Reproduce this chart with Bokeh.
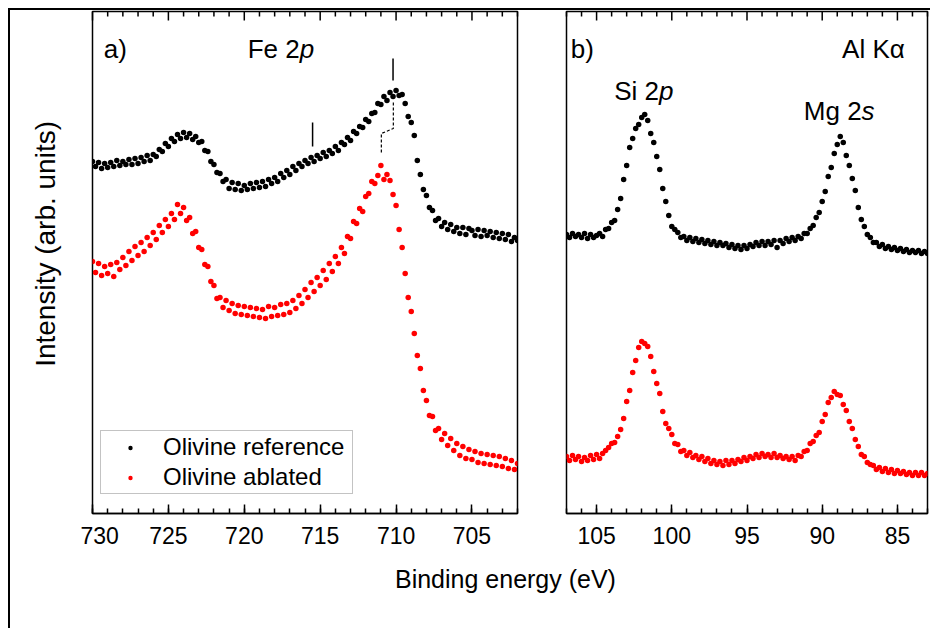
import math
from bokeh.plotting import figure
from bokeh.models import (Range1d, SingleIntervalTicker, Legend, LegendItem, Row, Column)
from bokeh.core.properties import value
from bokeh.embed import file_html
from bokeh.resources import INLINE

FONT = "Liberation Sans"

# ---------------- data: Fe 2p region (binding energy 730 -> 702 eV, step 0.2 eV)
fe_start, fe_step = 730.0, -0.2
fe_reference = [
    352, 347, 351, 345, 350, 346, 351, 347, 353, 348,
    352, 349, 354, 349, 355, 350, 356, 352, 358, 353,
    359, 357, 364, 362, 370, 367, 375, 372, 379, 375,
    381, 376, 380, 374, 377, 371, 372, 363, 362, 352,
    349, 341, 340, 332, 334, 325, 331, 324, 330, 323,
    328, 324, 330, 325, 331, 326, 332, 327, 334, 330,
    336, 332, 340, 336, 343, 339, 347, 343, 350, 347,
    353, 350, 356, 352, 358, 355, 361, 357, 363, 360,
    367, 363, 371, 369, 376, 373, 382, 380, 387, 386,
    394, 392, 400, 401, 410, 409, 417, 413, 421, 417,
    423, 418, 419, 410, 397, 391, 378, 353, 339, 324,
    318, 306, 303, 293, 295, 287, 291, 284, 289, 282,
    286, 280, 286, 279, 285, 283, 278, 284, 277, 283,
    278, 282, 276, 281, 275, 280, 274, 279, 272, 276,
    273,
]
fe_ablated = [
    252, 241, 250, 238, 247, 240, 249, 237, 251, 244,
    256, 248, 262, 253, 267, 258, 271, 262, 276, 268,
    281, 274, 288, 281, 294, 287, 300, 294, 309, 300,
    306, 293, 296, 280, 282, 266, 264, 249, 247, 232,
    228, 215, 216, 206, 213, 203, 210, 200, 208, 199,
    207, 198, 206, 197, 205, 196, 204, 195, 207, 197,
    206, 198, 209, 199, 210, 201, 213, 205, 218, 210,
    224, 216, 231, 222, 236, 228, 243, 234, 250, 242,
    257, 250, 266, 260, 277, 275, 292, 290, 305, 302,
    317, 320, 332, 330, 338, 348, 334, 339, 333, 319,
    308, 284, 266, 240, 216, 202, 180, 158, 145, 123,
    113, 98, 97, 83, 85, 74, 80, 68, 75, 63,
    70, 58, 67, 55, 64, 54, 62, 51, 60, 50,
    59, 49, 58, 48, 57, 47, 55, 45, 53, 44,
    50,
]
fe_energy = [round(fe_start + i * fe_step, 1) for i in range(len(fe_reference))]

# peak position marks and guide (eV, intensity)
fe_mark_E = [715.5, 710.2]
fe_mark_lo = [367, 433]
fe_mark_hi = [391, 455]
fe_guide_E = [710.18, 710.18, 710.97, 710.97]
fe_guide_I = [411, 385, 380, 359]

# ---------------- data: Si 2p / Mg 2s region (107 -> 83 eV, step 0.2 eV)
sb_start, sb_step = 107.0, -0.2
sb_reference = [
    279, 276, 280, 277, 279, 276, 280, 275, 279, 276,
    278, 280, 277, 284, 285, 291, 293, 304, 315, 334,
    348, 366, 375, 385, 389, 396, 399, 393, 380, 371,
    357, 344, 325, 312, 298, 287, 284, 281, 276, 277,
    273, 276, 272, 275, 271, 274, 270, 273, 269, 272,
    268, 271, 268, 270, 266, 269, 265, 268, 264, 268,
    265, 269, 267, 271, 268, 272, 268, 272, 269, 273,
    266, 273, 270, 275, 272, 276, 273, 277, 275, 280,
    280, 285, 288, 296, 301, 312, 322, 337, 346, 360,
    369, 377, 371, 358, 348, 335, 323, 306, 294, 287,
    279, 276, 271, 271, 267, 269, 265, 267, 264, 266,
    263, 265, 262, 264, 261, 263, 261, 263, 260, 262,
    260,
]
sb_ablated = [
    57, 53, 58, 54, 57, 52, 56, 53, 58, 54,
    59, 55, 60, 63, 66, 70, 71, 77, 84, 95,
    112, 123, 141, 153, 166, 172, 170, 167, 157, 142,
    130, 120, 102, 90, 85, 79, 70, 69, 62, 63,
    58, 61, 56, 58, 54, 57, 52, 55, 50, 53,
    49, 52, 48, 53, 49, 53, 50, 54, 52, 56,
    53, 57, 55, 59, 56, 60, 57, 59, 56, 60,
    56, 58, 55, 57, 54, 57, 53, 58, 57, 62,
    63, 70, 72, 78, 81, 92, 99, 111, 116, 122,
    119, 118, 109, 103, 92, 85, 74, 67, 59, 57,
    51, 49, 48, 44, 46, 42, 45, 41, 44, 40,
    43, 40, 42, 39, 41, 38, 41, 38, 41, 38,
    40,
]
sb_energy = [round(sb_start + i * sb_step, 1) for i in range(len(sb_reference))]

Y_MAX = 502          # one intensity unit per pixel of frame height
MS = 5.5
TICK_PX = 23
NOTE_PX = 26
MAJOR_LEN, MINOR_LEN = 9, 5
TOP_B, BOT_B = 1, 48
FIG_H = TOP_B + Y_MAX + BOT_B


def bare(p):
    p.outline_line_color = None
    p.xgrid.grid_line_color = None
    p.ygrid.grid_line_color = None


def style_panel(p):
    p.xgrid.grid_line_color = None
    p.ygrid.grid_line_color = None
    p.outline_line_color = "black"
    p.outline_line_width = 1.5
    ax = p.xaxis[0]
    ax.ticker = SingleIntervalTicker(interval=5, num_minor_ticks=5)
    ax.major_tick_in = MAJOR_LEN
    ax.major_tick_out = 0
    ax.minor_tick_in = MINOR_LEN
    ax.minor_tick_out = 0
    ax.major_tick_line_width = 1.5
    ax.minor_tick_line_width = 1.5
    ax.axis_line_width = 1.5
    ax.major_label_text_font = FONT
    ax.major_label_text_font_size = f"{TICK_PX}px"
    ax.major_label_text_color = "black"
    ax.major_label_standoff = 13


def top_ticks(p, lo, hi):
    # mirrored (unlabelled) ticks hanging from the top edge of the frame
    tick_vals = list(range(lo, hi + 1))
    major = [t for t in tick_vals if t % 5 == 0]
    minor = [t for t in tick_vals if t % 5 != 0]
    p.segment(x0=major, y0=[Y_MAX] * len(major), x1=major, y1=[Y_MAX - MAJOR_LEN] * len(major),
              line_color="black", line_width=1.5, level="overlay")
    p.segment(x0=minor, y0=[Y_MAX] * len(minor), x1=minor, y1=[Y_MAX - MINOR_LEN] * len(minor),
              line_color="black", line_width=1.5, level="overlay")


def note(p, x, y, s, align, italic=False):
    p.text(x=[x], y=[y], text=[s], text_font=value(FONT), text_font_size=f"{NOTE_PX}px",
           text_font_style="italic" if italic else "normal",
           text_baseline="alphabetic", text_align=align, text_color="black")


# ---------------- y-axis title column
py = figure(width=70, height=FIG_H, x_range=Range1d(0, 1), y_range=Range1d(0, 1),
            output_backend="svg", toolbar_location=None, tools="",
            x_axis_location=None, y_axis_location=None, min_border=0)
bare(py)
py.text(x=[0.5], y=[0.537], text=["Intensity (arb. units)"], angle=math.pi / 2,
        text_font=value(FONT), text_font_size="28px", text_align="center",
        text_baseline="middle", text_color="black")

# ---------------- panel a
pa = figure(width=461, height=FIG_H, x_range=Range1d(730, 702), y_range=Range1d(0, Y_MAX),
            output_backend="svg", toolbar_location=None, tools="",
            y_axis_location=None, min_border_left=12, min_border_right=24,
            min_border_top=TOP_B, min_border_bottom=BOT_B)
style_panel(pa)

r_ref = pa.scatter(fe_energy, fe_reference, size=MS, color="black", line_color=None)
r_abl = pa.scatter(fe_energy, fe_ablated, size=MS, color="red", line_color=None)
pa.segment(x0=fe_mark_E, y0=fe_mark_lo, x1=fe_mark_E, y1=fe_mark_hi,
           line_color="black", line_width=1.5)
pa.line(fe_guide_E, fe_guide_I, line_color="black", line_width=1.2, line_dash="3 2")

note(pa, 729.26, 465, "a)", "left")
note(pa, 716.35, 465, "Fe 2", "right")
note(pa, 716.35, 465, "p", "left", italic=True)

legend = Legend(items=[LegendItem(label="Olivine reference", renderers=[r_ref]),
                       LegendItem(label="Olivine ablated", renderers=[r_abl])],
                location=(8, 19), border_line_color="#888888", border_line_width=1,
                label_text_font=FONT, label_text_font_size="24px", label_text_color="black",
                glyph_width=54, glyph_height=11, label_height=22, label_width=187,
                label_standoff=6, padding=2, spacing=2, margin=0, background_fill_alpha=1)
pa.add_layout(legend)
top_ticks(pa, 702, 730)

# ---------------- panel b
pb = figure(width=389, height=FIG_H, x_range=Range1d(107, 83), y_range=Range1d(0, Y_MAX),
            output_backend="svg", toolbar_location=None, tools="",
            y_axis_location=None, min_border_left=25, min_border_right=3,
            min_border_top=TOP_B, min_border_bottom=BOT_B)
style_panel(pb)
pb.scatter(sb_energy, sb_reference, size=MS, color="black", line_color=None)
pb.scatter(sb_energy, sb_ablated, size=MS, color="red", line_color=None)

note(pb, 106.71, 465, "b)", "left")
note(pb, 84.51, 465, "Al K\u03b1", "right")
note(pb, 100.85, 423, "Si 2", "right")
note(pb, 100.85, 423, "p", "left", italic=True)
note(pb, 87.38, 403, "Mg 2", "right")
note(pb, 87.38, 403, "s", "left", italic=True)
top_ticks(pb, 83, 107)

# ---------------- shared x-axis title
pc = figure(width=920, height=67, x_range=Range1d(0, 1), y_range=Range1d(0, 1),
            output_backend="svg", toolbar_location=None, tools="",
            x_axis_location=None, y_axis_location=None, min_border=0)
bare(pc)
pc.text(x=[0.538], y=[0.746], text=["Binding energy (eV)"], text_font=value(FONT),
        text_font_size="25px", text_baseline="alphabetic", text_align="center",
        text_color="black")

layout = Column(children=[Row(children=[py, pa, pb]), pc],
                styles={"border-top": "2px solid black", "border-left": "2px solid black",
                        "margin-left": "8px", "margin-top": "8px"})

open("out.html", "w").write(file_html(layout, INLINE))
